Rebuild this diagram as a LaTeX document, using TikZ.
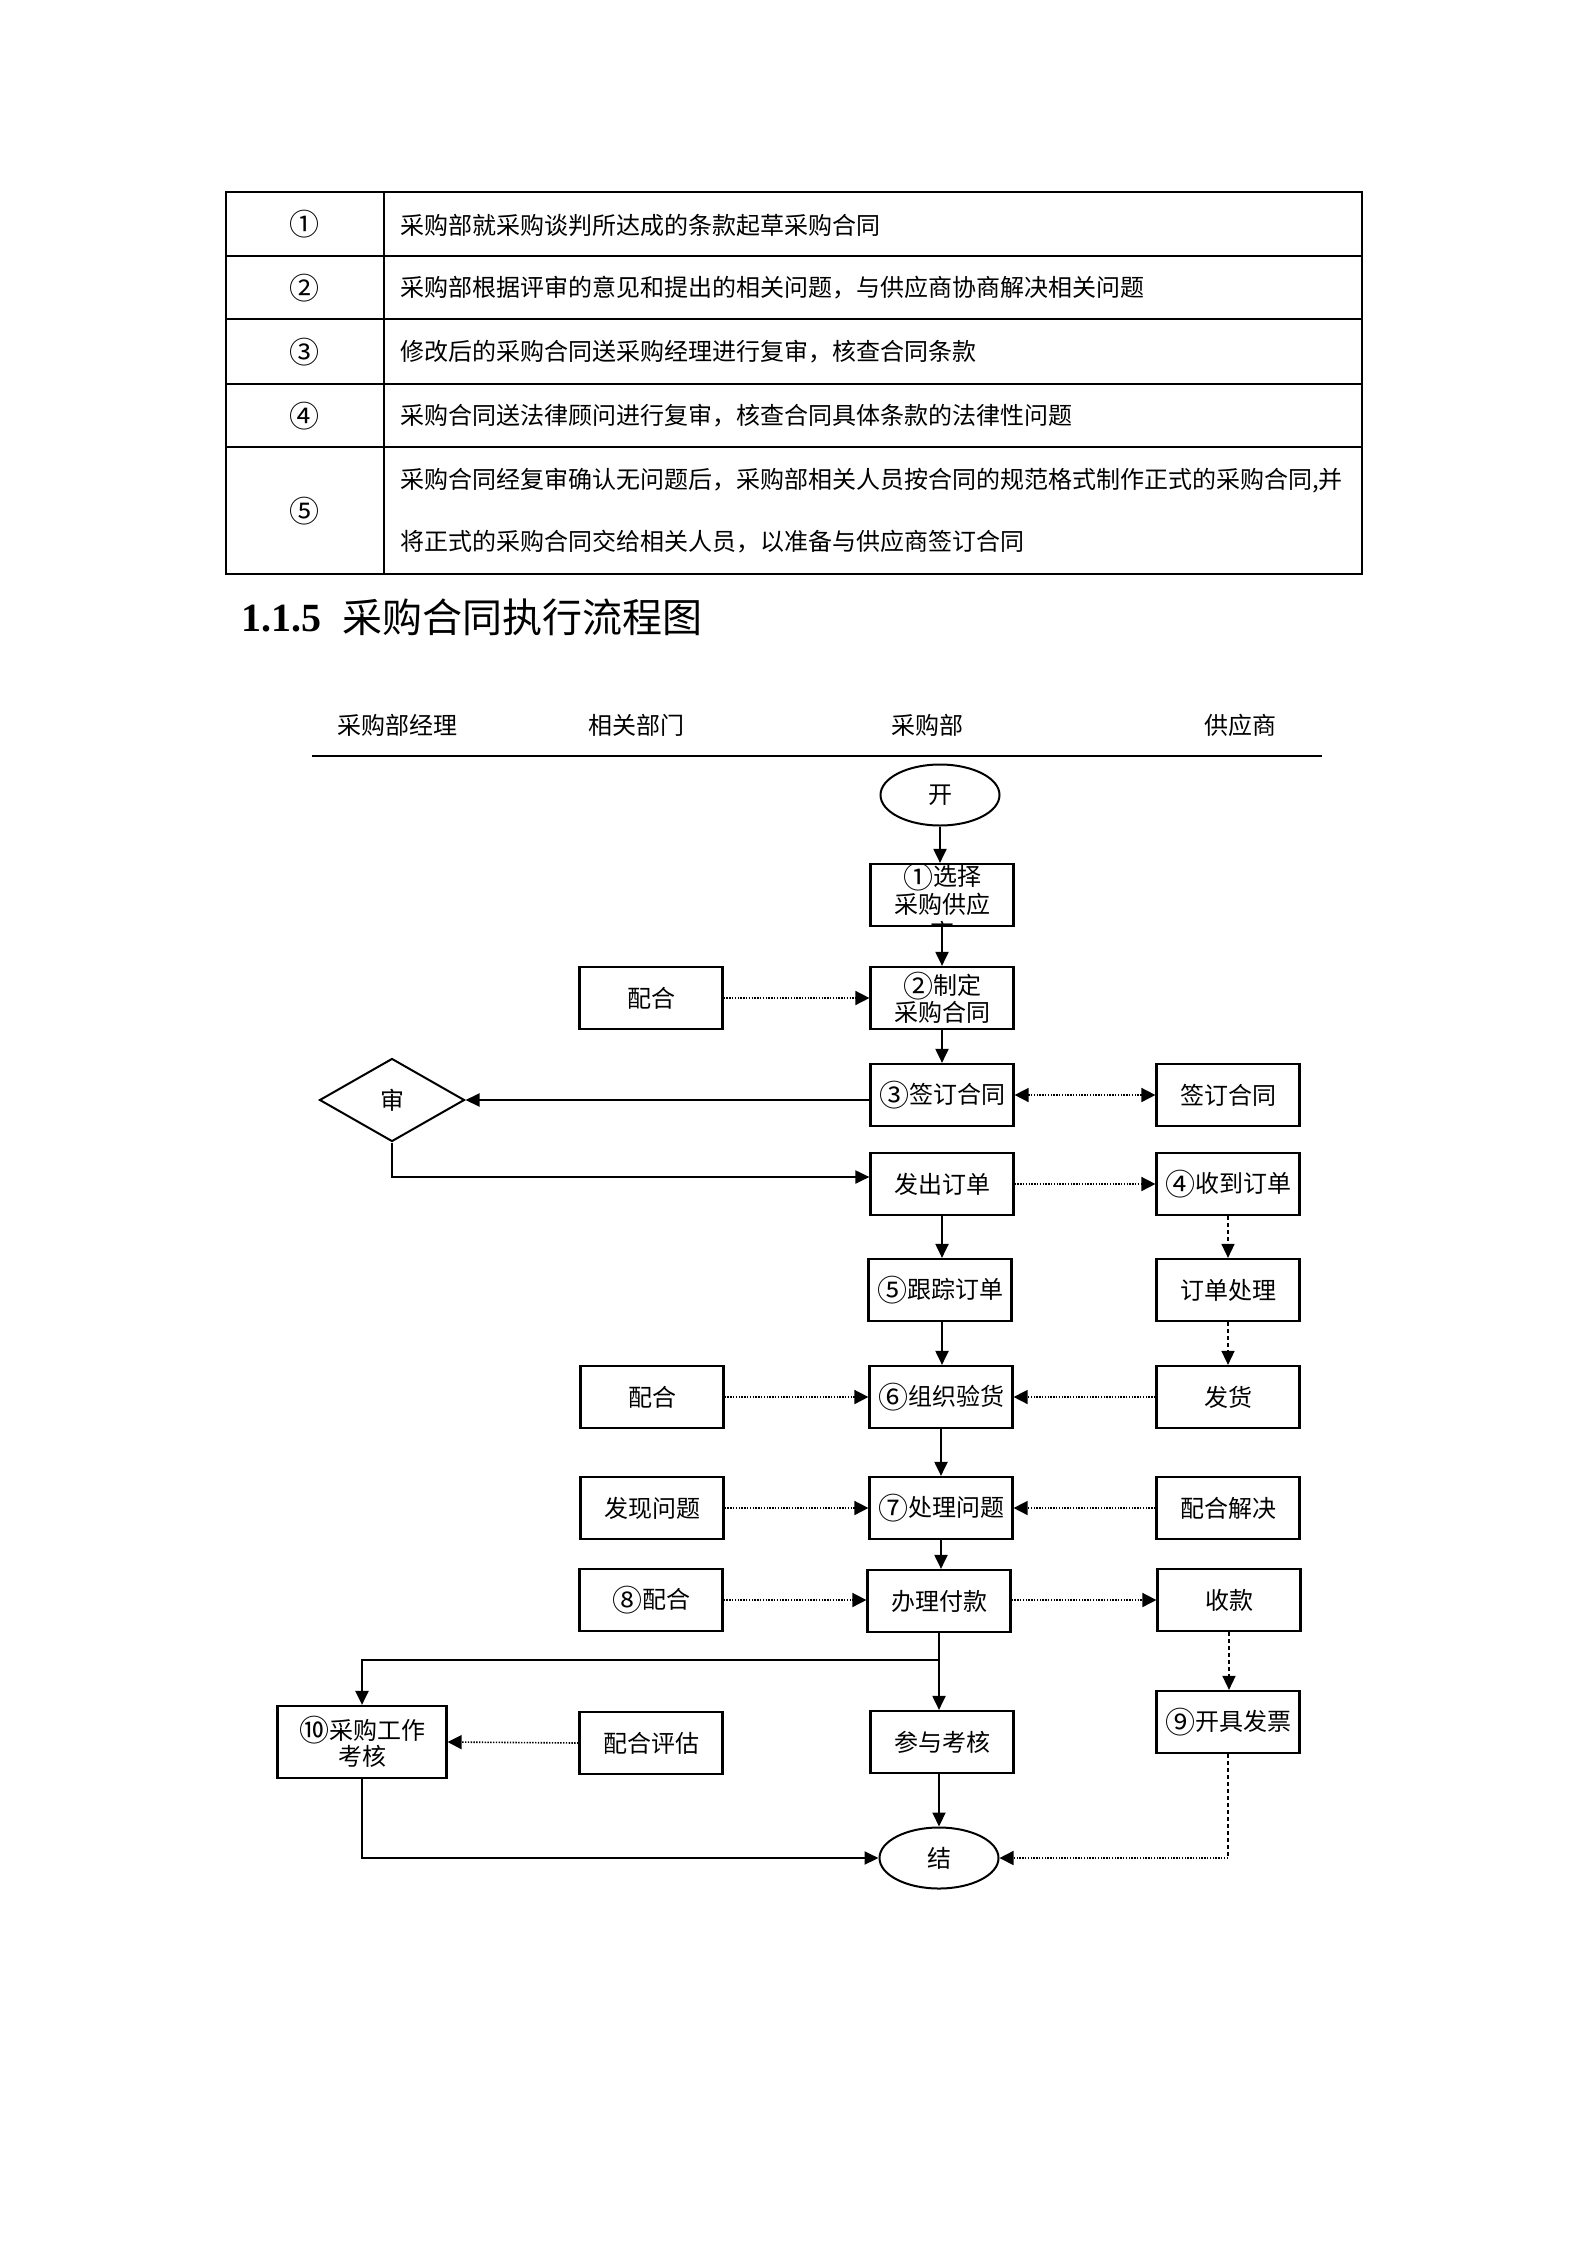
\documentclass[tikz,border=0pt]{standalone}
\usepackage{fontspec}
\setmainfont{Liberation Serif}
\newfontfamily\cjk{Noto Sans CJK SC}
\usetikzlibrary{arrows.meta,shapes.geometric}
\newcommand\cnum[1]{\raisebox{-2.5pt}{\fontsize{30}{27}\selectfont #1}}
\tikzset{
 box/.style={draw, line width=2.2pt, minimum width=143pt, minimum height=62pt, inner sep=0pt, align=center, font=\cjk\fontsize{24}{27}\selectfont},
 term/.style={draw, ellipse, line width=2pt, minimum width=119pt, minimum height=61pt, inner sep=0pt, font=\cjk\fontsize{24}{27}\selectfont},
 flow/.style={line width=2pt, -{Triangle[length=14pt,width=13pt]}},
 dotarrow/.style={line width=1.6pt, dash pattern=on 1.4pt off 1.4pt, -{Triangle[length=14pt,width=14pt]}},
 dasharrow/.style={line width=1.5pt, dash pattern=on 4pt off 3pt, -{Triangle[length=14pt,width=13pt]}},
 dashline/.style={line width=1.5pt, dash pattern=on 4pt off 3pt},
 lbl/.style={font=\cjk\fontsize{24}{28}\selectfont, inner sep=0pt},
 tbl/.style={line width=1.5pt},
}
\begin{document}
\begin{tikzpicture}[x=1pt,y=-1pt]
\useasboundingbox (0,0) rectangle (1587,2245);
% ---------- table ----------
\draw[tbl] (226,192) rectangle (1362,574);
\foreach \yy in {256,319,384,447} \draw[tbl] (226,\yy) -- (1362,\yy);
\draw[tbl] (384,192) -- (384,574);
\node[lbl] (n1) at (304,224) {\cnum{①}};
\node[lbl] (n2) at (304,288) {\cnum{②}};
\node[lbl] (n3) at (304,352) {\cnum{③}};
\node[lbl] (n4) at (304,416) {\cnum{④}};
\node[lbl] (n5) at (304,511) {\cnum{⑤}};
\node[lbl,anchor=west] (t1) at (400,225) {采购部就采购谈判所达成的条款起草采购合同};
\node[lbl,anchor=west] (t2) at (400,288) {采购部根据评审的意见和提出的相关问题，与供应商协商解决相关问题};
\node[lbl,anchor=west] (t3) at (400,352) {修改后的采购合同送采购经理进行复审，核查合同条款};
\node[lbl,anchor=west] (t4) at (400,416) {采购合同送法律顾问进行复审，核查合同具体条款的法律性问题};
\node[lbl,anchor=west] (t5a) at (400,481) {采购合同经复审确认无问题后，采购部相关人员按合同的规范格式制作正式的采购合同,并};
\node[lbl,anchor=west] (t5b) at (400,542) {将正式的采购合同交给相关人员，以准备与供应商签订合同};
% ---------- heading ----------
\node[anchor=west, inner sep=0pt, font=\bfseries\fontsize{40}{44}\selectfont] (hnum) at (241,619) {1.1.5};
\node[anchor=west, inner sep=0pt, font=\cjk\fontsize{40}{44}\selectfont] (htxt) at (342,617) {采购合同执行流程图};
% ---------- lanes ----------
\node[lbl] (l1) at (397,725) {采购部经理};
\node[lbl] (l2) at (636,725) {相关部门};
\node[lbl] (l3) at (927,725) {采购部};
\node[lbl] (l4) at (1240,725) {供应商};
\coordinate (la) at (312,756);
\coordinate (lb) at (1322,756);
\draw[line width=2.5pt] (la) -- (lb);
% ---------- flow nodes ----------
\node[term] (start) at (940,795) {开};
\node[box] (s1) at (942,895) {};
\begin{scope}
\clip (871,864) rectangle (1013,925);
\node[lbl, align=center, font=\cjk\fontsize{24}{28}\selectfont] (s1t) at (942,903) {\cnum{①}选择\\采购供应\\商};
\end{scope}
\node[box] (s2) at (942,998) {\cnum{②}制定\\采购合同};
\node[box] (pj2) at (651,998) {配合};
\node[box] (s3) at (942,1095) {\cnum{③}签订合同};
\node[box] (sign) at (1228,1095) {签订合同};
\node[draw, diamond, line width=2pt, minimum width=145pt, minimum height=83pt, inner sep=0pt, font=\cjk\fontsize{24}{27}\selectfont] (d) at (392,1100) {审};
\node[box] (fa) at (942,1184) {发出订单};
\node[box] (s4) at (1228,1184) {\cnum{④}收到订单};
\node[box] (s5) at (940,1290) {\cnum{⑤}跟踪订单};
\node[box] (oh) at (1228,1290) {订单处理};
\node[box] (s6) at (941,1397) {\cnum{⑥}组织验货};
\node[box] (fh) at (1228,1397) {发货};
\node[box] (pj3) at (652,1397) {配合};
\node[box] (s7) at (941,1508) {\cnum{⑦}处理问题};
\node[box] (fx) at (652,1508) {发现问题};
\node[box] (pjjj) at (1228,1508) {配合解决};
\node[box] (pay) at (939,1601) {办理付款};
\node[box] (s8) at (651,1600) {\cnum{⑧}配合};
\node[box] (sk) at (1229,1600) {收款};
\node[box] (s9) at (1228,1722) {\cnum{⑨}开具发票};
\node[box, minimum width=169pt, minimum height=72pt, font=\cjk\fontsize{24}{26}\selectfont] (s10) at (362,1742) {\cnum{⑩}采购工作\\考核};
\node[box] (pg) at (651,1743) {配合评估};
\node[box] (kh) at (942,1742) {参与考核};
\node[term] (end) at (939,1858) {结};
% ---------- connectors ----------
\draw[flow] (start) -- (start |- s1.north);
\draw[flow] (s1.south) -- (s2.north);
\draw[flow] (s2.south) -- (s3.north);
\draw[dotarrow] (pj2.east) -- (s2.west);
\draw[dotarrow, {Triangle[length=14pt,width=14pt]}-{Triangle[length=14pt,width=14pt]}] (s3.east) -- (sign.west);
\draw[flow] (s3.west |- d.east) -- (d.east);
\draw[flow] (d.south) |- ([yshift=7pt]fa.west);
\draw[dotarrow] (fa.east) -- (s4.west);
\draw[flow] (fa.south) -- (fa.south |- s5.north);
\draw[dasharrow] (s4.south) -- (oh.north);
\draw[flow] (s5.south -| fa.south) -- (fa.south |- s6.north);
\draw[dasharrow] (oh.south) -- (fh.north);
\draw[dotarrow] (pj3.east) -- (s6.west);
\draw[dotarrow] (fh.west) -- (s6.east);
\draw[flow] (s6.south) -- (s6.south |- s7.north);
\draw[dotarrow] (fx.east) -- (s7.west);
\draw[dotarrow] (pjjj.west) -- (s7.east);
\draw[flow] (s7.south) -- (s7.south |- pay.north);
\draw[dotarrow] (s8.east) -- (s8.east -| pay.west);
\draw[dotarrow] (pay.east |- sk.west) -- (sk.west);
\draw[dasharrow] (sk.south) -- (sk.south |- s9.north);
\coordinate (br) at (939,1660);
\draw[line width=2pt] (pay.south) -- (br);
\draw[flow] (br) -- (br |- kh.north);
\draw[flow, line width=2.5pt] (br) -| (s10.north);
\draw[dotarrow] (pg.west) -- (s10.east);
\draw[flow] (end.north |- kh.south) -- (end.north);
\draw[flow] (s10.south) |- (end.west);
\draw[dashline] (s9.south) -- (s9.south |- end.east);
\draw[dotarrow] (s9.south |- end.east) -- (end.east);
\end{tikzpicture}
\end{document}
